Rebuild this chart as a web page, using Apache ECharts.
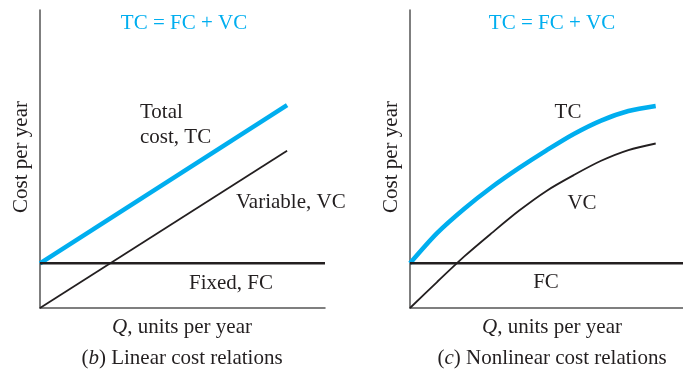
<!DOCTYPE html>
<html>
<head>
<meta charset="utf-8">
<script src="https://cdn.jsdelivr.net/npm/echarts@6/dist/echarts.min.js"></script>
<style>
  html, body { margin: 0; padding: 0; background: #fff; }
  #main { width: 683px; height: 373px; }
</style>
</head>
<body>
<div id="main"></div>
<script>
// (b) linear panel
const linearQ = [0, 86.7];
const linearTC = [15, 68.1];
const linearVC = [0, 52.8];
const fixedQ = [0, 100];
const fixedFC = [15, 15];

// (c) nonlinear panel
const nonlinQ = [0, 10, 20, 30, 40, 50, 60, 70, 80, 90];
const nonlinTC = [15, 25.2, 33.4, 40.6, 47.0, 52.9, 58.4, 62.9, 66.1, 67.8];
const nonlinVC = [0, 8.8, 17.4, 25.2, 32.7, 39.3, 44.6, 49.4, 53.0, 55.2];

const CYAN = '#00aeef';
const INK = '#231f20';
const AXIS = '#555555';
const FONT = '"Liberation Serif", "Times New Roman", serif';

const pairs = (xs, ys) => xs.map((x, i) => [x, ys[i]]);

const makeAxis = gridIndex => ({
  type: 'value',
  gridIndex,
  min: 0,
  max: 100,
  axisLine: { show: true, lineStyle: { color: AXIS, width: 1.5 } },
  axisTick: { show: false },
  axisLabel: { show: false },
  splitLine: { show: false },
});

const line = (name, idx, data, color, width, smooth) => ({
  name,
  type: 'line',
  xAxisIndex: idx,
  yAxisIndex: idx,
  data,
  smooth: smooth || false,
  showSymbol: false,
  symbol: 'none',
  silent: true,
  lineStyle: { color, width, cap: 'butt' },
});

const label = (text, x, y, opts) => ({
  type: 'text',
  x,
  y,
  rotation: (opts && opts.rotation) || 0,
  style: {
    text,
    fontFamily: FONT,
    fontSize: 21,
    fill: (opts && opts.fill) || INK,
    align: (opts && opts.align) || 'center',
    verticalAlign: 'middle',
    rich: {
      i: { fontFamily: FONT, fontSize: 21, fontStyle: 'italic', fill: INK },
    },
  },
});

const chart = echarts.init(document.getElementById('main'));

const option = {
  backgroundColor: '#fff',
  animation: false,
  grid: [
    { left: 40, top: 10, width: 285, height: 298 },
    { left: 410, top: 10, width: 273, height: 298 },
  ],
  xAxis: [makeAxis(0), makeAxis(1)],
  yAxis: [makeAxis(0), makeAxis(1)],
  series: [
    line('TC', 0, pairs(linearQ, linearTC), CYAN, 4.5),
    line('VC', 0, pairs(linearQ, linearVC), INK, 1.8),
    line('FC', 0, pairs(fixedQ, fixedFC), INK, 2.4),
    line('TC', 1, pairs(nonlinQ, nonlinTC), CYAN, 4.5, 0.3),
    line('VC', 1, pairs(nonlinQ, nonlinVC), INK, 1.8, 0.3),
    line('FC', 1, pairs(fixedQ, fixedFC), INK, 2.4),
  ],
  graphic: [
    label('TC = FC + VC', 184, 23, { fill: CYAN }),
    label('Total', 140, 112, { align: 'left' }),
    label('cost, TC', 140, 137, { align: 'left' }),
    label('Variable, VC', 236, 202.5, { align: 'left' }),
    label('Fixed, FC', 189, 283, { align: 'left' }),
    label('{i|Q}, units per year', 182, 327.5),
    label('({i|b}) Linear cost relations', 182, 358),
    label('Cost per year', 21, 157, { rotation: Math.PI / 2 }),

    label('TC = FC + VC', 552, 23, { fill: CYAN }),
    label('TC', 568, 112),
    label('VC', 582, 203.5),
    label('FC', 546, 282),
    label('{i|Q}, units per year', 552, 327.5),
    label('({i|c}) Nonlinear cost relations', 552, 358),
    label('Cost per year', 391, 157, { rotation: Math.PI / 2 }),
  ],
};

chart.setOption(option);
</script>
</body>
</html>
